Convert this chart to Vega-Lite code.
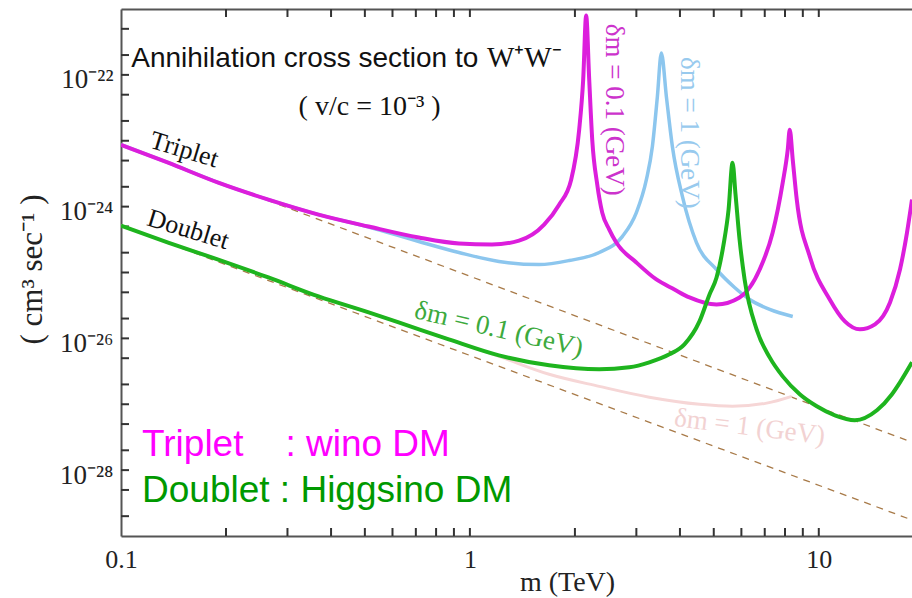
{
  "$schema": "https://vega.github.io/schema/vega-lite/v6.json",
  "width": 791,
  "height": 527,
  "autosize": {"type": "none"},
  "padding": {"left": 121, "top": 9, "right": 0, "bottom": 62},
  "background": "white",
  "config": {"view": {"stroke": null}},
  "datasets": {
    "curves": [
      {"series": "dashT", "m": 0.1, "sigma": 8.55e-24}, {"series": "dashT", "m": 18.5, "sigma": 2.65e-28},
      {"series": "dashD", "m": 0.1, "sigma": 5.15e-25}, {"series": "dashD", "m": 18.5, "sigma": 1.75e-29},

      {"series": "T01", "m": 0.1, "sigma": 8.69e-24}, {"series": "T01", "m": 0.1365, "sigma": 4.64e-24},
      {"series": "T01", "m": 0.19, "sigma": 2.31e-24}, {"series": "T01", "m": 0.2645, "sigma": 1.277e-24},
      {"series": "T01", "m": 0.3683, "sigma": 7.57e-25}, {"series": "T01", "m": 0.5127, "sigma": 4.98e-25},
      {"series": "T01", "m": 0.7136, "sigma": 3.39e-25}, {"series": "T01", "m": 0.93, "sigma": 2.75e-25},
      {"series": "T01", "m": 1.157, "sigma": 2.65e-25}, {"series": "T01", "m": 1.383, "sigma": 3.05e-25},
      {"series": "T01", "m": 1.632, "sigma": 5.34e-25}, {"series": "T01", "m": 1.802, "sigma": 1.07e-24},
      {"series": "T01", "m": 1.951, "sigma": 2.56e-24}, {"series": "T01", "m": 2.057, "sigma": 1.47e-23},
      {"series": "T01", "m": 2.112, "sigma": 8.4e-23}, {"series": "T01", "m": 2.154, "sigma": 8.0e-22},
      {"series": "T01", "m": 2.198, "sigma": 8.4e-23}, {"series": "T01", "m": 2.242, "sigma": 1.04e-23},
      {"series": "T01", "m": 2.318, "sigma": 2.15e-24}, {"series": "T01", "m": 2.395, "sigma": 8.11e-25},
      {"series": "T01", "m": 2.509, "sigma": 4.49e-25}, {"series": "T01", "m": 2.628, "sigma": 2.85e-25},
      {"series": "T01", "m": 3.0, "sigma": 1.42e-25}, {"series": "T01", "m": 3.423, "sigma": 7.84e-26},
      {"series": "T01", "m": 3.857, "sigma": 5.52e-26},
      {"series": "T01", "m": 4.26, "sigma": 4.18e-26}, {"series": "T01", "m": 5.093, "sigma": 3.27e-26},
      {"series": "T01", "m": 5.929, "sigma": 4.18e-26}, {"series": "T01", "m": 6.769, "sigma": 1.11e-25},
      {"series": "T01", "m": 7.376, "sigma": 4.04e-25}, {"series": "T01", "m": 7.882, "sigma": 2.31e-24},
      {"series": "T01", "m": 8.147, "sigma": 7.31e-24}, {"series": "T01", "m": 8.256, "sigma": 1.47e-23},
      {"series": "T01", "m": 8.421, "sigma": 5.15e-24}, {"series": "T01", "m": 8.647, "sigma": 1.28e-24},
      {"series": "T01", "m": 9.422, "sigma": 1.75e-25}, {"series": "T01", "m": 10.75, "sigma": 3.9e-26},
      {"series": "T01", "m": 11.88, "sigma": 1.81e-26}, {"series": "T01", "m": 13.12, "sigma": 1.37e-26},
      {"series": "T01", "m": 14.49, "sigma": 1.63e-26}, {"series": "T01", "m": 16.0, "sigma": 3.51e-26},
      {"series": "T01", "m": 17.09, "sigma": 1.11e-25}, {"series": "T01", "m": 17.9, "sigma": 4.04e-25},
      {"series": "T01", "m": 18.5, "sigma": 1.28e-24},

      {"series": "T1", "m": 0.1, "sigma": 8.69e-24}, {"series": "T1", "m": 0.1365, "sigma": 4.64e-24},
      {"series": "T1", "m": 0.19, "sigma": 2.31e-24}, {"series": "T1", "m": 0.2645, "sigma": 1.277e-24},
      {"series": "T1", "m": 0.3683, "sigma": 7.57e-25}, {"series": "T1", "m": 0.5127, "sigma": 4.9e-25},
      {"series": "T1", "m": 0.7136, "sigma": 2.95e-25}, {"series": "T1", "m": 0.93, "sigma": 2.01e-25},
      {"series": "T1", "m": 1.211, "sigma": 1.47e-25}, {"series": "T1", "m": 1.579, "sigma": 1.32e-25},
      {"series": "T1", "m": 1.925, "sigma": 1.52e-25}, {"series": "T1", "m": 2.348, "sigma": 2.01e-25},
      {"series": "T1", "m": 2.734, "sigma": 3.51e-25}, {"series": "T1", "m": 3.0, "sigma": 8.11e-25},
      {"series": "T1", "m": 3.205, "sigma": 2.56e-24}, {"series": "T1", "m": 3.334, "sigma": 8.11e-24},
      {"series": "T1", "m": 3.446, "sigma": 4.64e-23}, {"series": "T1", "m": 3.538, "sigma": 2.15e-22},
      {"series": "T1", "m": 3.658, "sigma": 4.64e-23}, {"series": "T1", "m": 3.806, "sigma": 8.11e-24},
      {"series": "T1", "m": 4.067, "sigma": 1.42e-24}, {"series": "T1", "m": 4.461, "sigma": 2.85e-25},
      {"series": "T1", "m": 5.093, "sigma": 1.11e-25}, {"series": "T1", "m": 5.737, "sigma": 5.93e-26},
      {"series": "T1", "m": 6.337, "sigma": 3.9e-26}, {"series": "T1", "m": 7.232, "sigma": 2.75e-26},
      {"series": "T1", "m": 8.421, "sigma": 2.15e-26},

      {"series": "D01", "m": 0.1, "sigma": 5.15e-25}, {"series": "D01", "m": 0.1365, "sigma": 2.85e-25},
      {"series": "D01", "m": 0.19, "sigma": 1.57e-25}, {"series": "D01", "m": 0.2645, "sigma": 8.4e-26},
      {"series": "D01", "m": 0.3683, "sigma": 4.33e-26}, {"series": "D01", "m": 0.5127, "sigma": 2.48e-26},
      {"series": "D01", "m": 0.625, "sigma": 1.75e-26}, {"series": "D01", "m": 0.87, "sigma": 9.66e-27},
      {"series": "D01", "m": 1.211, "sigma": 5.52e-27}, {"series": "D01", "m": 1.687, "sigma": 3.9e-27},
      {"series": "D01", "m": 2.348, "sigma": 3.39e-27}, {"series": "D01", "m": 2.864, "sigma": 3.64e-27},
      {"series": "D01", "m": 3.268, "sigma": 4.33e-27}, {"series": "D01", "m": 3.731, "sigma": 5.73e-27},
      {"series": "D01", "m": 4.12, "sigma": 8.11e-27}, {"series": "D01", "m": 4.55, "sigma": 1.81e-26},
      {"series": "D01", "m": 4.862, "sigma": 4.64e-26}, {"series": "D01", "m": 5.093, "sigma": 8.4e-26},
      {"series": "D01", "m": 5.333, "sigma": 2.65e-25}, {"series": "D01", "m": 5.513, "sigma": 9.0e-25},
      {"series": "D01", "m": 5.66, "sigma": 4.64e-24}, {"series": "D01", "m": 5.773, "sigma": 1.52e-24},
      {"series": "D01", "m": 5.929, "sigma": 3.16e-25}, {"series": "D01", "m": 6.129, "sigma": 7.84e-26},
      {"series": "D01", "m": 6.634, "sigma": 1.37e-26}, {"series": "D01", "m": 7.232, "sigma": 5.15e-27},
      {"series": "D01", "m": 7.882, "sigma": 2.65e-27}, {"series": "D01", "m": 8.819, "sigma": 1.42e-27},
      {"series": "D01", "m": 9.869, "sigma": 9.33e-28}, {"series": "D01", "m": 11.12, "sigma": 6.8e-28},
      {"series": "D01", "m": 12.69, "sigma": 5.73e-28}, {"series": "D01", "m": 14.68, "sigma": 8.11e-28},
      {"series": "D01", "m": 16.21, "sigma": 1.42e-27}, {"series": "D01", "m": 17.09, "sigma": 2.15e-27},
      {"series": "D01", "m": 18.5, "sigma": 4.33e-27},

      {"series": "D1", "m": 0.1, "sigma": 5.15e-25}, {"series": "D1", "m": 0.1365, "sigma": 2.85e-25},
      {"series": "D1", "m": 0.19, "sigma": 1.57e-25}, {"series": "D1", "m": 0.2645, "sigma": 8.4e-26},
      {"series": "D1", "m": 0.3683, "sigma": 4.33e-26}, {"series": "D1", "m": 0.5127, "sigma": 2.48e-26},
      {"series": "D1", "m": 0.625, "sigma": 1.75e-26}, {"series": "D1", "m": 0.87, "sigma": 9.66e-27},
      {"series": "D1", "m": 1.211, "sigma": 5.33e-27}, {"series": "D1", "m": 1.687, "sigma": 2.85e-27},
      {"series": "D1", "m": 2.348, "sigma": 1.87e-27}, {"series": "D1", "m": 3.268, "sigma": 1.28e-27},
      {"series": "D1", "m": 4.55, "sigma": 1.0e-27}, {"series": "D1", "m": 5.66, "sigma": 9.33e-28},
      {"series": "D1", "m": 7.089, "sigma": 1.04e-27}, {"series": "D1", "m": 8.364, "sigma": 1.32e-27}
    ],
    "xticks": [
      {"m": 0.2}, {"m": 0.3}, {"m": 0.4}, {"m": 0.5}, {"m": 0.6}, {"m": 0.7}, {"m": 0.8}, {"m": 0.9},
      {"m": 1}, {"m": 2}, {"m": 3}, {"m": 4}, {"m": 5}, {"m": 6}, {"m": 7}, {"m": 8}, {"m": 9}, {"m": 10}
    ],
    "yticks": [
      {"sigma": 2e-29}, {"sigma": 5e-29}, {"sigma": 1e-28}, {"sigma": 2e-28}, {"sigma": 5e-28},
      {"sigma": 1e-27}, {"sigma": 2e-27}, {"sigma": 5e-27}, {"sigma": 1e-26}, {"sigma": 2e-26}, {"sigma": 5e-26},
      {"sigma": 1e-25}, {"sigma": 2e-25}, {"sigma": 5e-25}, {"sigma": 1e-24}, {"sigma": 2e-24}, {"sigma": 5e-24},
      {"sigma": 1e-23}, {"sigma": 2e-23}, {"sigma": 5e-23}, {"sigma": 1e-22}, {"sigma": 2e-22}, {"sigma": 5e-22}
    ],
    "notes": [
      {"id": "title", "label": "Annihilation cross section to", "m": 0.107, "sigma": 1.32e-22},
      {"id": "ww", "label": "W⁺W⁻", "m": 1.119, "sigma": 1.32e-22},
      {"id": "vc", "label": "( v/c = 10⁻³  )", "m": 0.516, "sigma": 2.48e-23},
      {"id": "trip", "label": "Triplet", "m": 0.1518, "sigma": 7.31e-24},
      {"id": "doub", "label": "Doublet", "m": 0.1558, "sigma": 4.49e-25},
      {"id": "g01", "label": "δm = 0.1 (GeV)", "m": 1.211, "sigma": 1.37e-26},
      {"id": "m01", "label": "δm = 0.1 (GeV)", "m": 2.593, "sigma": 2.95e-23},
      {"id": "b1", "label": "δm = 1 (GeV)", "m": 4.26, "sigma": 1.32e-23},
      {"id": "p1", "label": "δm = 1 (GeV)", "m": 6.337, "sigma": 4.49e-28},
      {"id": "legT", "label": "Triplet", "m": 0.1149, "sigma": 1.63e-28},
      {"id": "legT2", "label": ": wino DM", "m": 0.296, "sigma": 1.63e-28},
      {"id": "legD", "label": "Doublet : Higgsino DM", "m": 0.1149, "sigma": 3.27e-29}
    ]
  },
  "resolve": {"axis": {"x": "independent", "y": "independent"}},
  "layer": [
    {
      "data": {"name": "curves"},
      "transform": [{"filter": "datum.series == 'dashT' || datum.series == 'dashD'"}],
      "mark": {"type": "line", "strokeDash": [7, 6], "color": "#a87a48", "strokeWidth": 1.3, "clip": true},
      "encoding": {
        "x": {"field": "m", "type": "quantitative", "scale": {"type": "log", "domain": [0.1, 18.5], "nice": false},
          "axis": {"orient": "top", "labels": false, "ticks": false, "title": null, "grid": false,
            "domainColor": "#555", "domainWidth": 2}},
        "y": {"field": "sigma", "type": "quantitative", "scale": {"type": "log", "domain": [1e-29, 1e-21], "nice": false},
          "axis": {"orient": "left", "grid": false, "ticks": false,
            "values": [1e-28, 1e-26, 1e-24, 1e-22],
            "labelExpr": "datum.value == 1e-22 ? '10⁻²²' : datum.value == 1e-24 ? '10⁻²⁴' : datum.value == 1e-26 ? '10⁻²⁶' : datum.value == 1e-28 ? '10⁻²⁸' : ''",
            "labelOverlap": false, "labelFont": "Liberation Serif", "labelFontSize": 27, "labelColor": "#222",
            "labelPadding": 8, "labelBaseline": "alphabetic", "labelOffset": 13,
            "domainColor": "#555", "domainWidth": 2,
            "title": "(  cm³ sec⁻¹  )", "titleFont": "Liberation Serif", "titleFontSize": 31, "titleFontWeight": "normal",
            "titleColor": "#222", "titleX": -89, "titleY": 260, "titleAngle": -90, "titleAlign": "center", "titleBaseline": "middle"}},
        "detail": {"field": "series"}
      }
    },
    {
      "data": {"name": "xticks"},
      "mark": {"type": "tick", "orient": "vertical", "size": 8, "thickness": 2, "color": "#333", "yOffset": -4, "opacity": 1},
      "encoding": {
        "x": {"field": "m", "type": "quantitative", "axis": null},
        "y": {"datum": 1e-29, "type": "quantitative", "axis": null}
      }
    },
    {
      "data": {"name": "xticks"},
      "mark": {"type": "tick", "orient": "vertical", "size": 8, "thickness": 2, "color": "#333", "yOffset": 4, "opacity": 1},
      "encoding": {
        "x": {"field": "m", "type": "quantitative", "axis": null},
        "y": {"datum": 1e-21, "type": "quantitative", "axis": null}
      }
    },
    {
      "data": {"name": "yticks"},
      "mark": {"type": "tick", "orient": "horizontal", "size": 8, "thickness": 2, "color": "#333", "xOffset": 4, "opacity": 1},
      "encoding": {
        "x": {"datum": 0.1, "type": "quantitative", "axis": null},
        "y": {"field": "sigma", "type": "quantitative", "axis": null}
      }
    },
    {
      "data": {"name": "curves"},
      "transform": [{"filter": "datum.series == 'D1'"}],
      "mark": {"type": "line", "color": "#f6d6d6", "strokeWidth": 3, "interpolate": "monotone", "clip": true},
      "encoding": {
        "x": {"field": "m", "type": "quantitative", "axis": null},
        "y": {"field": "sigma", "type": "quantitative", "axis": null}
      }
    },
    {
      "data": {"name": "curves"},
      "transform": [{"filter": "datum.series == 'T1'"}],
      "mark": {"type": "line", "color": "#8cc6ee", "strokeWidth": 3.5, "interpolate": "monotone", "clip": true},
      "encoding": {
        "x": {"field": "m", "type": "quantitative", "axis": null},
        "y": {"field": "sigma", "type": "quantitative", "axis": null}
      }
    },
    {
      "data": {"name": "curves"},
      "transform": [{"filter": "datum.series == 'T01'"}],
      "mark": {"type": "line", "color": "#dc1edc", "strokeWidth": 4, "interpolate": "monotone", "clip": true},
      "encoding": {
        "x": {"field": "m", "type": "quantitative",
          "axis": {"orient": "bottom", "values": [0.1, 1, 10],
            "labelExpr": "datum.value == 0.1 ? '0.1' : datum.value == 1 ? '1' : datum.value == 10 ? '10' : ''",
            "labelOverlap": false, "labelFlush": false, "labelFont": "Liberation Serif", "labelFontSize": 26, "labelColor": "#222",
            "labelPadding": 10, "grid": false, "ticks": false,
            "domainColor": "#555", "domainWidth": 2,
            "title": "m (TeV)", "titleFont": "Liberation Serif", "titleFontSize": 28, "titleFontWeight": "normal",
            "titleColor": "#222", "titleX": 446, "titleY": 54, "titleAlign": "center", "titleBaseline": "alphabetic"}},
        "y": {"field": "sigma", "type": "quantitative", "axis": null}
      }
    },
    {
      "data": {"name": "curves"},
      "transform": [{"filter": "datum.series == 'D01'"}],
      "mark": {"type": "line", "color": "#1eb41e", "strokeWidth": 4, "interpolate": "monotone", "clip": true},
      "encoding": {
        "x": {"field": "m", "type": "quantitative", "axis": null},
        "y": {"field": "sigma", "type": "quantitative", "axis": null}
      }
    },
    {
      "data": {"name": "notes"},
      "transform": [{"filter": "datum.id == 'title'"}],
      "mark": {"type": "text", "font": "Liberation Sans", "fontSize": 28, "color": "#111", "align": "left", "baseline": "alphabetic"},
      "encoding": {"x": {"field": "m", "type": "quantitative", "axis": null}, "y": {"field": "sigma", "type": "quantitative", "axis": null}, "text": {"field": "label"}}
    },
    {
      "data": {"name": "notes"},
      "transform": [{"filter": "datum.id == 'ww'"}],
      "mark": {"type": "text", "font": "Liberation Serif", "fontSize": 29, "color": "#111", "align": "left", "baseline": "alphabetic"},
      "encoding": {"x": {"field": "m", "type": "quantitative", "axis": null}, "y": {"field": "sigma", "type": "quantitative", "axis": null}, "text": {"field": "label"}}
    },
    {
      "data": {"name": "notes"},
      "transform": [{"filter": "datum.id == 'vc'"}],
      "mark": {"type": "text", "font": "Liberation Serif", "fontSize": 28, "color": "#111", "align": "center", "baseline": "alphabetic"},
      "encoding": {"x": {"field": "m", "type": "quantitative", "axis": null}, "y": {"field": "sigma", "type": "quantitative", "axis": null}, "text": {"field": "label"}}
    },
    {
      "data": {"name": "notes"},
      "transform": [{"filter": "datum.id == 'trip' || datum.id == 'doub'"}],
      "mark": {"type": "text", "font": "Liberation Serif", "fontSize": 26, "color": "#111", "align": "center", "baseline": "middle", "angle": 17},
      "encoding": {"x": {"field": "m", "type": "quantitative", "axis": null}, "y": {"field": "sigma", "type": "quantitative", "axis": null}, "text": {"field": "label"}}
    },
    {
      "data": {"name": "notes"},
      "transform": [{"filter": "datum.id == 'g01'"}],
      "mark": {"type": "text", "font": "Liberation Serif", "fontSize": 27, "color": "#3daa3d", "align": "center", "baseline": "middle", "angle": 13},
      "encoding": {"x": {"field": "m", "type": "quantitative", "axis": null}, "y": {"field": "sigma", "type": "quantitative", "axis": null}, "text": {"field": "label"}}
    },
    {
      "data": {"name": "notes"},
      "transform": [{"filter": "datum.id == 'm01'"}],
      "mark": {"type": "text", "font": "Liberation Serif", "fontSize": 27, "color": "#cc33cc", "align": "center", "baseline": "middle", "angle": 90},
      "encoding": {"x": {"field": "m", "type": "quantitative", "axis": null}, "y": {"field": "sigma", "type": "quantitative", "axis": null}, "text": {"field": "label"}}
    },
    {
      "data": {"name": "notes"},
      "transform": [{"filter": "datum.id == 'b1'"}],
      "mark": {"type": "text", "font": "Liberation Serif", "fontSize": 27, "color": "#98caee", "align": "center", "baseline": "middle", "angle": 90},
      "encoding": {"x": {"field": "m", "type": "quantitative", "axis": null}, "y": {"field": "sigma", "type": "quantitative", "axis": null}, "text": {"field": "label"}}
    },
    {
      "data": {"name": "notes"},
      "transform": [{"filter": "datum.id == 'p1'"}],
      "mark": {"type": "text", "font": "Liberation Serif", "fontSize": 27, "color": "#f2d2d2", "align": "center", "baseline": "middle", "angle": 7},
      "encoding": {"x": {"field": "m", "type": "quantitative", "axis": null}, "y": {"field": "sigma", "type": "quantitative", "axis": null}, "text": {"field": "label"}}
    },
    {
      "data": {"name": "notes"},
      "transform": [{"filter": "datum.id == 'legT' || datum.id == 'legT2'"}],
      "mark": {"type": "text", "font": "Liberation Sans", "fontSize": 37, "color": "#ff00ff", "align": "left", "baseline": "alphabetic"},
      "encoding": {"x": {"field": "m", "type": "quantitative", "axis": null}, "y": {"field": "sigma", "type": "quantitative", "axis": null}, "text": {"field": "label"}}
    },
    {
      "data": {"name": "notes"},
      "transform": [{"filter": "datum.id == 'legD'"}],
      "mark": {"type": "text", "font": "Liberation Sans", "fontSize": 37, "color": "#009900", "align": "left", "baseline": "alphabetic"},
      "encoding": {"x": {"field": "m", "type": "quantitative", "axis": null}, "y": {"field": "sigma", "type": "quantitative", "axis": null}, "text": {"field": "label"}}
    }
  ]
}
